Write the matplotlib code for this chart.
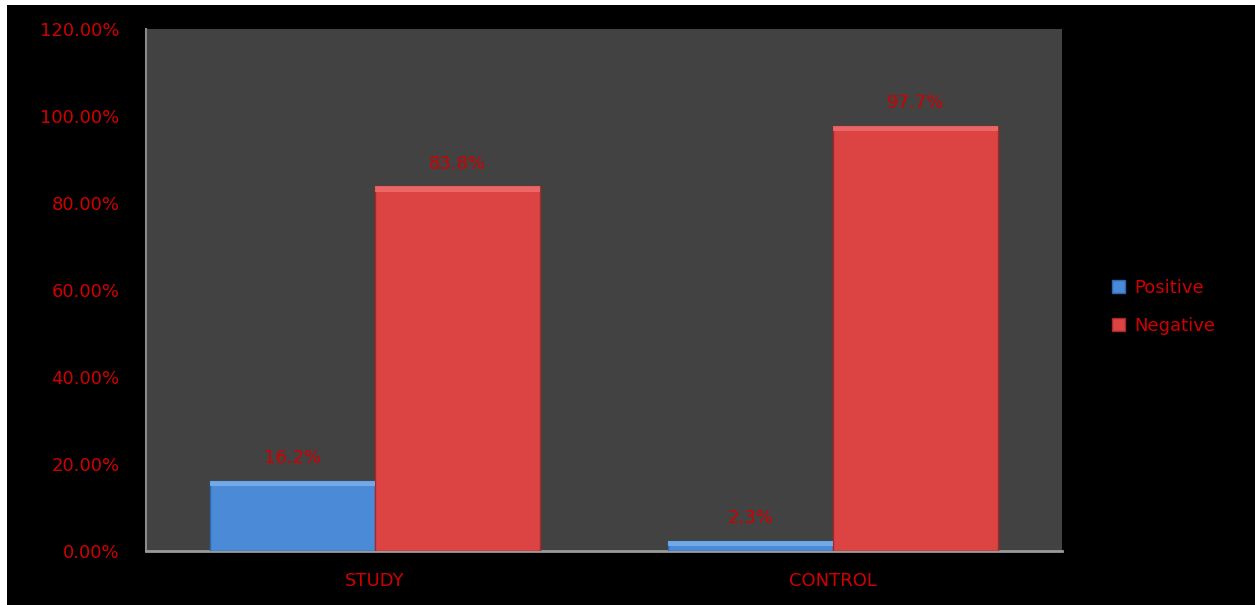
import matplotlib

matplotlib.use("Agg")
import matplotlib.pyplot as plt
import matplotlib.patches as mpatches
import numpy as np

plt.rcParams["font.family"] = ["DejaVu Sans"]

groups = ["STUDY", "CONTROL"]
positive = [16.2, 2.3]
negative = [83.8, 97.7]
y_ticks = [0, 20, 40, 60, 80, 100, 120]

BLUE = "#4a8ad6"
BLUE_EDGE = "#2f66b0"
RED = "#dc4444"
RED_EDGE = "#a82828"
TEXT_RED = "#d00000"
PLOT_BG = "#424242"

fig = plt.figure(figsize=(12.55, 6.05), dpi=100, facecolor="white")
# black canvas with a thin white margin on the top and left
fig.patches.append(mpatches.Rectangle((7 / 1255, 0), 1, 1 - 5 / 605,
                                      transform=fig.transFigure,
                                      facecolor="black", edgecolor="none",
                                      zorder=-10))

ax = fig.add_axes([146 / 1255, 54 / 605, 916 / 1255, 522 / 605])
ax.set_facecolor(PLOT_BG)

x = np.arange(len(groups))
w = 0.36
bars_pos = ax.bar(x - w / 2, positive, w, color=BLUE, edgecolor=BLUE_EDGE,
                  linewidth=1, label="Positive", zorder=3)
bars_neg = ax.bar(x + w / 2, negative, w, color=RED, edgecolor=RED_EDGE,
                  linewidth=1, label="Negative", zorder=3)

# bevel highlight along the top of each bar
for bars, hi in ((bars_pos, "#7db3ee"), (bars_neg, "#f07070")):
    for b in bars:
        band = min(1.2, b.get_height() * 0.5)
        ax.add_patch(mpatches.Rectangle((b.get_x(), b.get_height() - band),
                                        b.get_width(), band,
                                        facecolor=hi, edgecolor="none",
                                        alpha=0.8, zorder=4))

for bars, vals in ((bars_pos, positive), (bars_neg, negative)):
    for b, v in zip(bars, vals):
        ax.annotate(f"{v}%", (b.get_x() + b.get_width() / 2, v),
                    xytext=(0, 10), textcoords="offset points",
                    ha="center", va="bottom", color=TEXT_RED, fontsize=13)

ax.set_xlim(-0.5, 1.5)
ax.set_ylim(0, 120)
ax.set_yticks(y_ticks)
ax.set_yticklabels([f"{t:.2f}%" for t in y_ticks])
ax.set_xticks(x)
ax.set_xticklabels(groups)
ax.tick_params(axis="both", colors=TEXT_RED, labelsize=13, length=0)
ax.tick_params(axis="y", pad=19)
ax.tick_params(axis="x", pad=15)

for side in ("top", "right"):
    ax.spines[side].set_visible(False)
ax.spines["left"].set_color("#8a8a8a")
ax.spines["bottom"].set_color("#9a9a9a")
ax.spines["left"].set_linewidth(1.5)
ax.spines["bottom"].set_linewidth(2)

fig.legend(handles=[bars_pos, bars_neg], labels=["Positive", "Negative"],
           loc="center left", bbox_to_anchor=(1105 / 1255, 1 - 307 / 605),
           frameon=False, labelcolor=TEXT_RED, fontsize=13,
           handlelength=0.7, handleheight=0.7, labelspacing=1.1,
           handletextpad=0.5, borderaxespad=0)

fig.savefig("out.png", dpi=100, facecolor=fig.get_facecolor())
